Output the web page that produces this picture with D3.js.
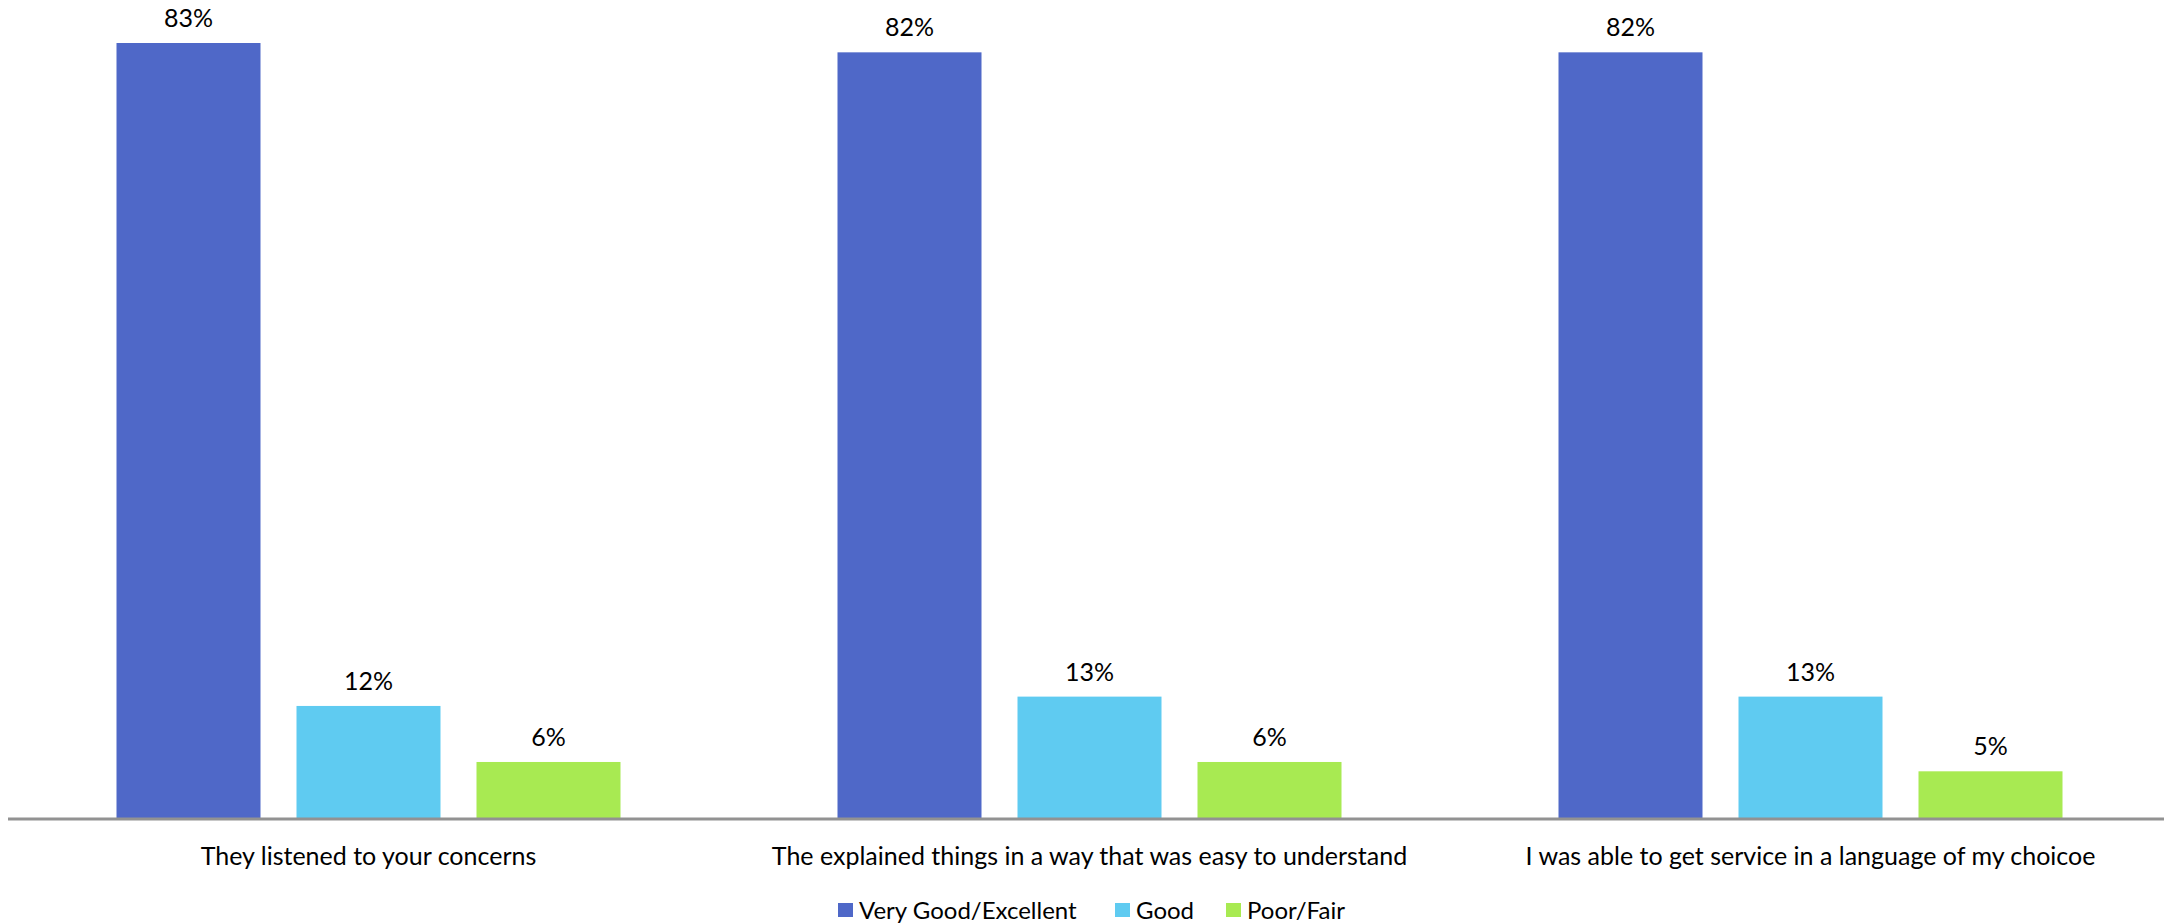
<!DOCTYPE html>
<html>
<head>
<meta charset="utf-8">
<script src="https://cdn.jsdelivr.net/npm/d3@7"></script>
<style>
  html, body { margin: 0; padding: 0; background: #fff; }
  svg { display: block; }
  text { font-family: Lato, "Open Sans", sans-serif; fill: #000; }
</style>
</head>
<body>
<script>
// ---- data ----
const categories = [
  "They listened to your concerns",
  "The explained things in a way that was easy to understand",
  "I was able to get service in a language of my choicoe"
];
const seriesNames = ["Very Good/Excellent", "Good", "Poor/Fair"];
const veryGoodExcellent = [83, 82, 82];
const good = [12, 13, 13];
const poorFair = [6, 6, 5];

// ---- layout / style ----
const W = 2164, H = 924;
const colors = ["#4F68C8", "#5FCBF1", "#A8EA52"];
const baseline = 818;
const fontSize = 25;

const seriesValues = [veryGoodExcellent, good, poorFair];
const rows = [];
categories.forEach((c, i) => {
  seriesNames.forEach((s, j) => rows.push({ cat: c, series: s, value: seriesValues[j][i], color: colors[j] }));
});

const svg = d3.select("body").append("svg").attr("width", W).attr("height", H);

const x0 = d3.scaleBand().domain(categories).range([8, 2171]).paddingInner(0).paddingOuter(0);
const x1 = d3.scaleBand().domain(seriesNames).range([108.5, 612.5]).paddingInner(0.2).paddingOuter(0);
const y = d3.scaleLinear().domain([0, 83]).range([baseline, 43]);

// bars
svg.append("g").selectAll("rect").data(rows).join("rect")
  .attr("x", d => x0(d.cat) + x1(d.series))
  .attr("width", x1.bandwidth())
  .attr("y", d => y(d.value))
  .attr("height", d => y(0) - y(d.value))
  .attr("fill", d => d.color);

// value labels
svg.append("g").selectAll("text").data(rows).join("text")
  .attr("x", d => x0(d.cat) + x1(d.series) + x1.bandwidth() / 2)
  .attr("y", d => y(d.value) - 16)
  .attr("text-anchor", "middle")
  .style("font-size", fontSize + "px")
  .text(d => d.value + "%");

// x axis
const xAxis = d3.axisBottom(x0).tickSize(0).tickPadding(0);
const gx = svg.append("g").attr("transform", `translate(0,${baseline})`).call(xAxis);
gx.select(".domain").attr("stroke", "#929292").attr("stroke-width", 3).attr("d", `M8,1H${W}`);
gx.selectAll(".tick text")
  .attr("y", 47)
  .attr("dy", 0)
  .style("font-size", fontSize + "px")
  .style("font-family", "Lato, 'Open Sans', sans-serif")
  .attr("fill", "#000");

// legend
const legendX = [838, 1115, 1226];
const lg = svg.append("g");
seriesNames.forEach((s, j) => {
  lg.append("rect").attr("x", legendX[j]).attr("y", 903).attr("width", 15).attr("height", 14).attr("fill", colors[j]);
  lg.append("text").attr("x", legendX[j] + 21).attr("y", 919).style("font-size", "24px").text(s);
});
</script>
</body>
</html>
